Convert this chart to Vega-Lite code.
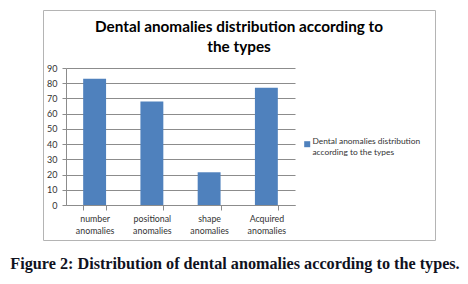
{
  "$schema": "https://vega.github.io/schema/vega-lite/v6.json",
  "padding": {"left": 10, "top": 9, "right": 5, "bottom": 5},
  "background": "white",
  "title": {
    "text": "Figure 2: Distribution of dental anomalies according to the types.",
    "orient": "bottom",
    "anchor": "middle",
    "font": "Liberation Serif",
    "fontSize": 16.2,
    "fontWeight": "bold",
    "color": "#10121e",
    "offset": 15,
    "dx": -4
  },
  "vconcat": [
    {
      "width": 392,
      "height": 230,
      "title": {
        "text": ["Dental anomalies distribution according to", "the types"],
        "anchor": "middle",
        "font": "Lato",
        "fontSize": 15.3,
        "fontWeight": "bold",
        "color": "#000000",
        "lineHeight": 20,
        "offset": -45
      },
      "data": {
        "values": [
          {"type": "number anomalies", "value": 83, "series": "Dental anomalies distribution according to the types"},
          {"type": "positional anomalies", "value": 68, "series": "Dental anomalies distribution according to the types"},
          {"type": "shape anomalies", "value": 21.5, "series": "Dental anomalies distribution according to the types"},
          {"type": "Acquired anomalies", "value": 77, "series": "Dental anomalies distribution according to the types"}
        ]
      },
      "mark": {"type": "bar"},
      "encoding": {
        "x": {
          "field": "type",
          "type": "nominal",
          "sort": null,
          "scale": {"range": [23, 252], "paddingInner": 0.6, "paddingOuter": 0.3},
          "axis": {
            "title": null,
            "offset": -35,
            "tickBand": "extent",
            "tickSize": 5,
            "labelPadding": 4,
            "labelAngle": 0,
            "labelExpr": "split(datum.label, ' ')",
            "labelLineHeight": 12,
            "labelBaseline": "top",
            "labelFont": "Lato",
            "labelFontSize": 8.8,
            "labelColor": "#333333",
            "domainColor": "#8c8c8c",
            "tickColor": "#8c8c8c",
            "grid": false
          }
        },
        "y": {
          "field": "value",
          "type": "quantitative",
          "scale": {"domain": [0, 90], "range": [195, 58], "nice": false},
          "axis": {
            "title": null,
            "offset": -23,
            "values": [0, 10, 20, 30, 40, 50, 60, 70, 80, 90],
            "tickSize": 4,
            "labelPadding": 5,
            "labelFont": "Lato",
            "labelFontSize": 9,
            "labelColor": "#333333",
            "domainColor": "#8c8c8c",
            "tickColor": "#8c8c8c",
            "grid": true,
            "gridColor": "#8c8c8c",
            "gridWidth": 1
          }
        },
        "color": {
          "field": "series",
          "type": "nominal",
          "scale": {"range": ["#4f81bd"]},
          "legend": {
            "orient": "none",
            "legendX": 260,
            "legendY": 130,
            "title": null,
            "symbolType": "square",
            "symbolSize": 36,
            "symbolStrokeWidth": 0,
            "labelOffset": 1,
            "labelFont": "Lato",
            "labelFontSize": 8.4,
            "labelColor": "#333333",
            "labelLimit": 220,
            "labelBaseline": "alphabetic",
            "labelExpr": "[slice(datum.label, 0, 29), slice(datum.label, 30)]",
            "labelLineHeight": 11
          }
        }
      }
    }
  ],
  "config": {
    "view": {"stroke": "#b4b4b4", "strokeWidth": 1}
  }
}
